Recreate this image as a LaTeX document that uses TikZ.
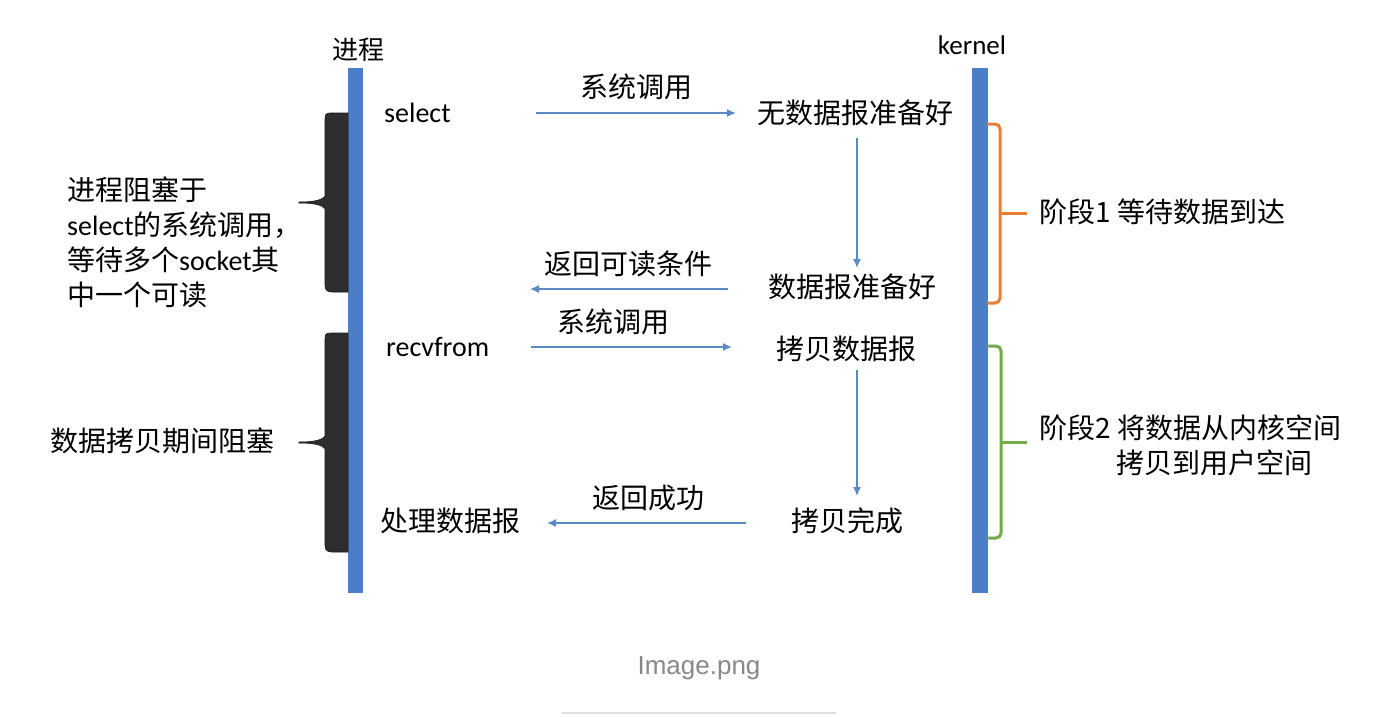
\documentclass[tikz,border=0pt]{standalone}
\usepackage{fontspec}
\setmainfont{Carlito}
\newfontfamily\cjk{Noto Sans CJK SC}
\newfontfamily\capfont{Liberation Sans}
\usetikzlibrary{arrows.meta}
\newcommand\zh[1]{{\cjk #1}}
\definecolor{barblue}{HTML}{4A7EC6}
\definecolor{arrblue}{HTML}{5A8AC6}
\definecolor{brkdark}{HTML}{2E2E2E}
\definecolor{stageorange}{HTML}{ED7D31}
\definecolor{stagegreen}{HTML}{70AD47}
\definecolor{capgray}{HTML}{888888}
\tikzset{
  txt/.style={inner sep=0pt, font=\fontsize{28}{35}\selectfont},
  arr/.style={draw=arrblue, line width=1.5pt, -{Latex[length=9pt,width=8pt]}},
  lane/.style={fill=barblue, draw=none},
  blockbrace/.style={fill=brkdark, draw=black!90, line width=0.6pt},
  stagebrace/.style={line width=3pt, rounded corners=5pt},
}
\begin{document}
\begin{tikzpicture}[x=1pt,y=-1pt]
\fill[white] (0,0) rectangle (1400,716);
\useasboundingbox (0,0) rectangle (1400,716);

% lanes
\fill[lane] (348,68) rectangle (363,593);
\fill[lane] (972,68) rectangle (988,593);
\node[txt, font=\fontsize{26}{30}\selectfont\cjk] (proc) at (358,50) {进程};
\node[txt, font=\fontsize{27}{30}\selectfont] (kern) at (972,45) {kernel};

% left blocking braces
\path[blockbrace] (348,113) -- (330,113) .. controls (325,113) and (325,116) .. (325,120)
  -- (325,196) .. controls (322,201) and (310,202) .. (299,202) -- (299,203)
  .. controls (310,203) and (322,204) .. (325,209)
  -- (325,285) .. controls (325,290) and (327,292) .. (332,292) -- (348,292) -- cycle;
\path[blockbrace] (348,333) -- (330,333) .. controls (325,333) and (325,336) .. (325,340)
  -- (325,436) .. controls (322,441) and (310,442) .. (299,442) -- (299,443)
  .. controls (310,443) and (322,444) .. (325,449)
  -- (325,545) .. controls (325,550) and (327,552) .. (332,552) -- (348,552) -- cycle;

\node[txt, anchor=west, align=left] (waitsel) at (67,242)
  {\zh{进程阻塞于}\\select\zh{的系统调用，}\\\zh{等待多个}socket\zh{其}\\\zh{中一个可读}};
\node[txt, anchor=west] (copyblk) at (50,441) {\zh{数据拷贝期间阻塞}};

% process side
\node[txt, anchor=west] (select) at (384,113) {select};
\node[txt, anchor=west] (recv) at (386,347) {recvfrom};
\node[txt, anchor=west] (handle) at (380,521) {\zh{处理数据报}};

% kernel side
\node[txt] (nodata) at (855,113) {\zh{无数据报准备好}};
\node[txt] (ready) at (852,287) {\zh{数据报准备好}};
\node[txt] (copy) at (846,349) {\zh{拷贝数据报}};
\node[txt] (done) at (847,521) {\zh{拷贝完成}};

% labels on arrows
\node[txt] (l1) at (636,87) {\zh{系统调用}};
\node[txt] (l2) at (628,264) {\zh{返回可读条件}};
\node[txt] (l3) at (613,322) {\zh{系统调用}};
\node[txt] (l4) at (648,498) {\zh{返回成功}};

% arrow endpoints
\coordinate (a1s) at (536,113); \coordinate (a1e) at (736,113);
\coordinate (v1s) at (857,138); \coordinate (v1e) at (857,268);
\coordinate (a2s) at (728,289); \coordinate (a2e) at (530,289);
\coordinate (a3s) at (531,347); \coordinate (a3e) at (732,347);
\coordinate (v2s) at (857,370); \coordinate (v2e) at (857,496);
\coordinate (a4s) at (746,523); \coordinate (a4e) at (547,523);
\draw[arr] (a1s) -- (a1e);
\draw[arr] (v1s) -- (v1e);
\draw[arr] (a2s) -- (a2e);
\draw[arr] (a3s) -- (a3e);
\draw[arr] (v2s) -- (v2e);
\draw[arr] (a4s) -- (a4e);

% stage braces
\draw[stagebrace, stageorange] (987,124) -- (1000,124) -- (1000,303) -- (987,303);
\draw[stageorange, line width=3pt] (1000,213) -- (1027,213);
\node[txt, anchor=west] (stage1) at (1039,212) {\zh{阶段1 等待数据到达}};
\draw[stagebrace, stagegreen] (987,346) -- (1001,346) -- (1001,538) -- (987,538);
\draw[stagegreen, line width=3pt] (1001,442) -- (1027,442);
\node[txt, anchor=west, align=left] (stage2) at (1039,445)
  {\zh{阶段2 将数据从内核空间}\\\hspace*{77pt}\zh{拷贝到用户空间}};

% caption
\node[inner sep=0pt, text=capgray, font=\fontsize{26}{30}\selectfont\capfont] (cap) at (699,668) {Image.png};
\draw[draw=black!12, line width=2.5pt] (562,713) -- (836,713);
\end{tikzpicture}
\end{document}
